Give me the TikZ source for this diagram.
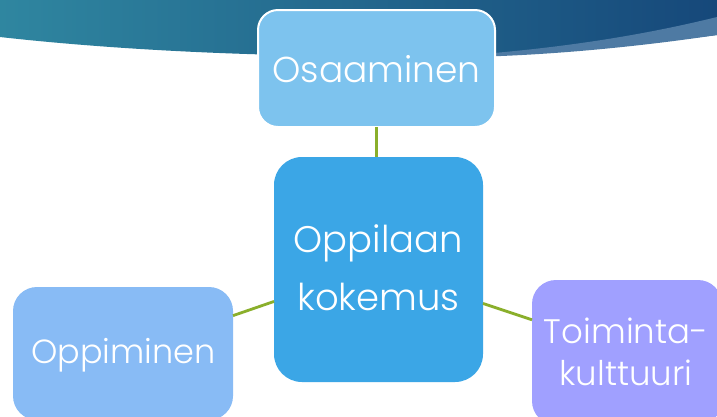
\documentclass[tikz,border=0pt]{standalone}
\usepackage{fontspec}
\setmainfont{Poppins Light}
\definecolor{osa}{RGB}{125,195,238}
\definecolor{cen}{RGB}{59,166,230}
\definecolor{oppi}{RGB}{136,187,245}
\definecolor{toim}{RGB}{160,160,255}
\definecolor{conn}{RGB}{138,175,43}
\definecolor{banL}{RGB}{47,134,160}
\definecolor{banR}{RGB}{22,72,122}
\definecolor{streak}{RGB}{78,122,163}
\begin{document}
\begin{tikzpicture}[x=1pt,y=-1pt,
  box/.style={rounded corners=#1, inner sep=0pt, outer sep=0pt},
  box/.default=20pt,
  link/.style={draw=conn, line width=2.8pt},
  txt/.style={text=white, inner sep=0pt, font=\fontsize{#1}{40}\selectfont, anchor=base},
  txt/.default=37]
\useasboundingbox (0,0) rectangle (717,416);
\clip (0,0) rectangle (717,416);
\fill[white] (0,0) rectangle (717,416);
% banner
\shade[left color=banL, right color=banR]
  (0,0) -- (717,0) -- (717,35)
  .. controls (600,49) and (470,57) .. (350,56)
  .. controls (200,55) and (80,46) .. (0,37) -- cycle;
\fill[streak] (717,17) .. controls (640,36) and (560,48) .. (470,55)
  -- (470,57) .. controls (560,55) and (650,45) .. (717,35) -- cycle;
% boxes
\node[box=20pt, fill=osa, draw=white, line width=2pt, minimum width=237pt, minimum height=117pt] (s) at (376.5,68.5) {};
\node[box=28pt, fill=cen, minimum width=209pt, minimum height=225pt] (c) at (378.5,269.5) {};
\node[box=24pt, fill=oppi, minimum width=220pt, minimum height=133pt] (o) at (123,353.5) {};
\node[box=24pt, fill=toim, minimum width=190pt, minimum height=145pt] (t) at (627,352.5) {};
% connectors
\draw[link] (s.south) -- (s.south |- c.north);
\draw[link] (c.197.3) -- (o.19.5);
\draw[link] (c.342.7) -- (t.161.7);
% texts
\node[txt=36] (s1) at (376.5,82) {Osaaminen};
\node[txt=37] (c1) at (378.5,252) {Oppilaan};
\node[txt=37] (c2) at (378.5,310) {kokemus};
\node[txt=33.5] (o1) at (123.5,363) {Oppiminen};
\node[txt=34] (t1) at (626,343) {Toiminta-};
\node[txt=34] (t2) at (626,385) {kulttuuri};
\end{tikzpicture}
\end{document}
